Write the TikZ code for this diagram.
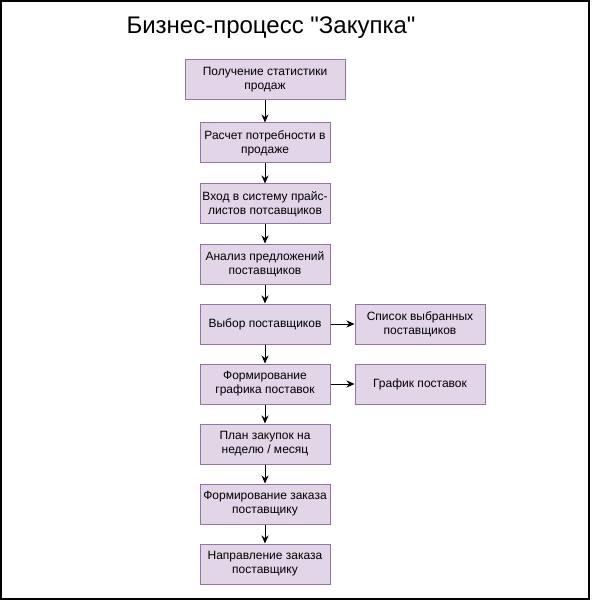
\documentclass[tikz,border=0pt]{standalone}
\usepackage{fontspec}
\setmainfont{Liberation Sans}[Ligatures=TeXOff]
\usetikzlibrary{arrows.meta}
\definecolor{boxfill}{HTML}{E1D5E7}
\definecolor{boxdraw}{HTML}{9673A6}
\begin{document}
\begin{tikzpicture}[x=1pt,y=-1pt,
  proc/.style={draw=boxdraw,fill=boxfill,line width=1pt,minimum width=130pt,minimum height=40pt,
    align=center,inner sep=2pt,font=\fontsize{12}{14}\selectfont},
  arr/.style={line width=1pt,-{Stealth[length=8pt,width=7pt]}}]
\useasboundingbox (0,0) rectangle (591,601);
\draw[line width=2pt] (1,1) rectangle (589,599);
\node[font=\fontsize{24}{28}\selectfont] (title) at (271,28) {Бизнес-процесс "Закупка"};
\node[proc,minimum width=160pt] (b1) at (265,80) {Получение статистики\\продаж};
\node[proc] (b2) at (265,143) {Расчет потребности в\\продаже};
\node[proc] (b3) at (265,204) {Вход в систему прайс-\\листов потсавщиков};
\node[proc] (b4) at (265,264) {Анализ предложений\\поставщиков};
\node[proc] (b5) at (265,324) {Выбор поставщиков};
\node[proc] (b6) at (265,384) {Формирование\\графика поставок};
\node[proc] (b7) at (265,444) {План закупок на\\неделю / месяц};
\node[proc] (b8) at (265,504) {Формирование заказа\\поставщику};
\node[proc] (b9) at (265,564) {Направление заказа\\поставщику};
\node[proc] (s1) at (420,324) {Список выбранных\\поставщиков};
\node[proc] (s2) at (420,384) {График поставок};
\foreach \a/\b in {b1/b2,b2/b3,b3/b4,b4/b5,b5/b6,b6/b7,b7/b8,b8/b9}
  \draw[arr] (\a) -- (\b);
\draw[arr] (b5) -- (s1);
\draw[arr] (b6) -- (s2);
\end{tikzpicture}
\end{document}
